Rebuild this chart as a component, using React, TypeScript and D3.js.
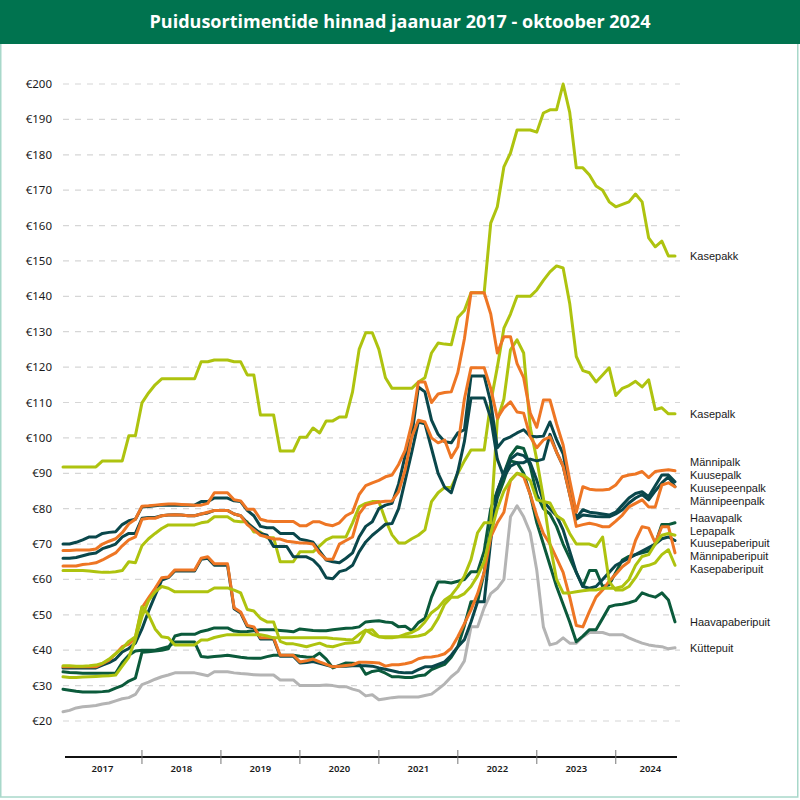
import React, { useEffect } from 'react';
import * as d3 from 'd3';

// monthly prices, Jan 2017 .. Oct 2024 (94 months), €/m³
const years = [2017, 2018, 2019, 2020, 2021, 2022, 2023, 2024];
const yTicks = d3.range(20, 201, 10);

const kasepakk = [
  91.8, 91.8, 91.8, 91.8, 91.8, 91.8, 93.5, 93.5, 93.5, 93.5, 100.6, 100.6,
  109.9, 112.7, 115, 116.7, 116.7, 116.7, 116.7, 116.7, 116.7, 121.5, 121.5, 122,
  122, 122, 121.5, 121.5, 117.8, 117.8, 106.5, 106.5, 106.5, 96.3, 96.3, 96.3,
  100.2, 100.2, 102.8, 101.4, 104.8, 104.8, 105.9, 105.9, 113, 125, 129.7, 129.7,
  125, 117, 114, 114, 114, 114, 115.8, 117, 124, 126.8, 126.5, 126.3,
  134, 136, 141, 141, 141, 160.7, 165.3, 176.6, 180.5, 187, 187, 187,
  186.4, 191.8, 192.7, 192.7, 200, 192, 176.3, 176.3, 174.3, 171.2, 170, 166.7,
  165.3, 166, 166.7, 168.9, 166.7, 156.5, 154, 155.6, 151.4, 151.4,
];
const kasepalk = [
  62.5, 62.5, 62.5, 62.5, 62.4, 62.2, 62, 62, 62.2, 62.5, 65, 64.7,
  69.5, 71.5, 73, 74.4, 75.4, 75.4, 75.4, 75.4, 75.4, 76, 76.3, 77.7,
  77.7, 77.7, 76.5, 76.3, 76.3, 73.4, 73.4, 71.8, 71.8, 65, 65, 65,
  67.8, 67.8, 67.8, 69.5, 71.2, 72, 72, 72, 76, 80.5, 81.5, 82,
  82, 76.8, 72.6, 70.3, 70.3, 71.5, 72.5, 74, 82, 84.5, 86, 86,
  90, 93.5, 96.6, 96.6, 96.6, 110, 120, 131, 135, 140, 140, 140,
  141.8, 144.5, 146.9, 148.6, 148, 138, 123, 119, 118.4, 115.8, 117.8, 119.8,
  112, 114, 114.8, 116, 114.4, 116.4, 108, 108.5, 106.8, 106.8,
];
const mannipalk = [
  68.2, 68.2, 68.3, 68.3, 68.3, 68.6, 70, 70.8, 71.5, 73.2, 75.7, 77,
  80.7, 80.8, 81, 81.2, 81.3, 81.3, 81.2, 81.1, 81, 81, 81.5, 84.5,
  84.5, 84.5, 82.5, 82.2, 79.8, 79.8, 77, 76.5, 76.4, 76.4, 76.4, 76.4,
  75.2, 75.2, 76.3, 76.3, 75.5, 75.2, 76, 78, 79, 84, 86.5, 87.3,
  88, 89, 89.5, 92.5, 96.5, 104, 115.8, 115.8, 110, 112.4, 112.8, 113,
  118.5, 128, 141, 141, 141, 135, 124, 128.6, 128.6, 121, 117, 107,
  103, 110.7, 110.7, 104, 98, 88, 79, 86.2, 85.5, 85.3, 85.3, 85.5,
  86.7, 89, 89.5, 89.8, 90.5, 88.8, 90.5, 90.8, 91, 90.7,
];
const kuusepalk = [
  70, 70, 70.5, 71.2, 72, 72, 73, 73.3, 73.5, 75.5, 76.6, 77,
  80.5, 80.6, 80.8, 81, 81, 81, 81, 81, 81, 82, 82, 83,
  83, 83, 82.2, 82, 79.5, 78, 75, 74.6, 74.6, 73, 73, 73,
  71.4, 71, 70.5, 68, 65.5, 65, 64.7, 66, 67.5, 72, 75, 76.3,
  80, 81, 81.5, 87, 95, 100.5, 114.4, 113, 105, 101, 98.9, 98.6,
  101.4, 102.3, 117.5, 117.5, 117.5, 110, 97.2, 99.5, 100.3, 101.4, 102.3, 100.5,
  100.3, 100.5, 104.5, 99.5, 95.5, 86, 77.4, 79.7, 79, 78.8, 78.5, 78.2,
  79, 81, 83, 84.3, 84.8, 83.4, 86.5, 89.5, 89.5, 87.6,
];
const kuusepeenpalk = [
  66, 66, 66.2, 66.7, 67.2, 67.5, 68.7, 69.3, 70, 72, 73, 73,
  77.3, 77.5, 77.5, 78, 78.2, 78.3, 78.2, 78, 78, 78.5, 78.8, 79.5,
  79.5, 79.5, 78.5, 78, 76, 74.5, 73, 72.5, 69.3, 69.3, 69.3, 66.4,
  66.4, 66.4, 65.5, 63.6, 60.5, 60.2, 62.2, 62.7, 64, 67.8, 70.6, 72.5,
  74, 75.6, 75.8, 80, 88, 96, 104.5, 104, 97, 90, 86, 84.5,
  90.5, 99, 111.3, 111.3, 111.3, 105.6, 94, 89, 92, 93, 93, 94,
  93.5, 94, 101, 96, 92, 84, 77, 78.2, 78, 77.8, 77.7, 77.7,
  78.5, 79.7, 81.6, 83, 84, 82.5, 85, 87.3, 89, 86.2,
];
const mannipeenpalk = [
  63.8, 63.8, 63.8, 64.2, 64.4, 64.7, 65.5, 66.5, 67.5, 69.5, 71.2, 72,
  77, 77.3, 77.3, 78, 78.2, 78.3, 78.2, 78, 78, 78.5, 79, 79.5,
  79.5, 79.5, 78.5, 78, 75.5, 74, 72.5, 72, 71.4, 71.4, 70.8, 70.6,
  70.3, 70.3, 70, 67.4, 65.7, 65.7, 70, 71, 72, 78.5, 81, 81.5,
  81.9, 82.1, 82.2, 84.8, 91, 100.3, 105, 104.5, 100, 98.6, 99.4, 94.4,
  97.5, 111, 119.8, 119.8, 119.8, 114, 105.6, 108.5, 110.2, 107.3, 107, 100.3,
  97.2, 99.4, 100.3, 96, 92, 84, 75, 75.5, 75.9, 75.5, 74.9, 74.9,
  76.5, 78.2, 80.5, 81.5, 82.5, 80.5, 80.5, 86.7, 87.3, 86.2,
];
const haavapalk = [
  29, 28.7, 28.4, 28.2, 28.2, 28.2, 28.3, 28.5, 29.3, 30, 31.3, 32.1,
  39.4, 39.6, 39.8, 40, 40.4, 44, 44.5, 44.5, 44.5, 45.3, 45.7, 46.3,
  46.3, 46.3, 45.4, 45.2, 45.3, 45.5, 45.8, 45.8, 45.8, 45.6, 45.4, 45.2,
  46, 45.8, 45.6, 45.5, 45.5, 45.8, 46, 46.2, 46.3, 46.6, 48, 48.2,
  48.3, 48, 47.8, 46.6, 46.8, 45.5, 47.8, 49, 55, 59.3, 59.3, 59,
  59.5, 60, 62.2, 62.2, 68, 80, 85, 90, 95, 97.5, 97, 92,
  84, 80, 78.5, 75, 70, 66, 62, 58, 62.5, 62.5, 58, 58.5,
  62, 65.5, 66.5, 67, 67.5, 68, 70, 75.5, 75.5, 76,
];
const lepapalk = [
  32.5, 32.3, 32.3, 32.4, 32.5, 32.6, 32.7, 32.8, 33, 35.5, 38, 43,
  49.5, 54, 56.5, 58, 57.5, 56.5, 56.5, 56.5, 56.5, 56.5, 56.5, 57.6,
  57.6, 57.6, 57, 56.2, 51.5, 51.1, 49, 48, 48, 42.5, 41.8, 41.8,
  41.4, 41, 41.5, 42, 41.2, 41, 41.5, 42, 42.1, 42.3, 45.5, 45.8,
  43.8, 43.5, 43.5, 43.8, 44.5, 45, 46, 48, 50.6, 52, 54.2, 55.5,
  57.9, 61, 65.6, 73.2, 76, 76, 105, 111, 124.9, 127.7, 124, 103,
  93.8, 83, 70, 60, 56.2, 56.2, 56.5, 56.8, 57, 57, 57.5, 57.5,
  57.5, 58, 60, 64, 66.5, 67, 70, 72.5, 73, 72.5,
];
const kuusepaberipuit = [
  35, 35, 35, 35, 35, 35, 35.8, 36.5, 37.5, 39.5, 40.5, 42,
  46, 51, 55.5, 59.8, 60.5, 62.4, 62.4, 62.4, 62.4, 65.7, 66, 64,
  64, 64, 51.7, 50.5, 46.7, 46.3, 43.2, 43.2, 43.2, 38.3, 38.3, 38.3,
  36.4, 36.5, 36.8, 36.3, 35.8, 35.3, 35.5, 35.5, 35.6, 35.6, 35.6, 35.5,
  35, 34.6, 34.2, 33.8, 33.6, 33.6, 34.5, 35.3, 35.3, 36, 36.7, 38.6,
  41, 43, 48, 53.7, 53.7, 71, 85, 90, 94, 95.5, 95, 93,
  88, 82, 80, 78, 74, 68, 62, 58, 57.5, 58, 60, 62,
  64, 65, 66, 67, 68, 69, 70, 71.5, 72, 71,
];
const mannipaberipuit = [
  35.3, 35.3, 35.3, 35.3, 35.3, 35.3, 36.2, 37.2, 39, 41, 41.7, 43.5,
  52, 54.8, 57.5, 60.5, 60.7, 62.7, 62.7, 62.7, 62.7, 66, 66.4, 64.4,
  64.4, 64.4, 52, 50.8, 47, 46.6, 43.5, 43.5, 43.5, 38.6, 38.6, 38.6,
  36.7, 37, 37.5, 36.7, 36, 35.3, 35.5, 35.7, 35.9, 36.6, 36.6, 36.5,
  36.4, 35.5, 35.9, 35.9, 36.2, 36.6, 37.6, 38, 38.1, 38.4, 39, 40.6,
  43.8, 47.5, 51.4, 56, 62, 72, 76, 79, 88, 90, 89, 84,
  78, 73, 70, 66, 62, 55, 47, 46.6, 51, 55, 57, 59.5,
  61.5, 63.6, 65, 71, 74.9, 74.5, 70.3, 74.9, 74.9, 67.5,
];
const kasepaberipuit = [
  35.6, 35.6, 35.5, 35.5, 35.6, 35.8, 36.3, 37.5, 39, 40.5, 42.5, 43.8,
  52.3, 50, 46, 43.8, 43.5, 41.5, 41.5, 41.5, 41.5, 42.9, 42.9, 43.6,
  44, 44.4, 44.4, 44.4, 44.4, 44.4, 44.4, 44, 43.5, 43.5, 43.5, 43.5,
  43.5, 43.5, 43.5, 43.5, 43.5, 43.3, 43.2, 43, 42.9, 44.5, 45.7, 44.5,
  43.8, 43.8, 43.8, 43.8, 43.8, 43.8, 44, 44.5, 46, 49, 53, 55,
  55, 56, 58, 61, 65, 73, 80, 85, 88, 90, 89.5, 88,
  82.5, 82, 81.6, 78, 76.8, 73, 70, 70, 70, 69.3, 72, 59.4,
  57, 57, 58, 60.5, 63.6, 64, 64.7, 67, 68.4, 64,
];
const haavapaberipuit = [
  33.9, 33.7, 33.6, 33.5, 33.5, 33.5, 33.5, 33.5, 33.5, 36.5, 38.6, 39.8,
  40, 40, 40, 40.5, 41, 42.3, 42.3, 42.3, 42.3, 38.2, 38, 38.2,
  38.4, 38.6, 38.3, 38, 37.8, 37.7, 37.7, 38.2, 38.6, 38.6, 38.6, 38.6,
  38.3, 38.1, 38, 39.2, 37.5, 35, 35.7, 36.4, 36.3, 36.2, 33.2, 34,
  34.3, 33.5, 32.5, 32.5, 32.3, 32.3, 32.8, 33, 34.5, 35.3, 36, 38,
  41, 47, 53.7, 53.7, 62, 75, 83, 88, 93.5, 93, 90, 84,
  76, 70, 64, 58, 53, 48, 42.4, 44, 45.8, 45.8, 49, 52.3,
  52.8, 53, 53.4, 54, 56.2, 55.5, 55, 56.2, 54.2, 48,
];
const kuttepuit = [
  22.6, 23, 23.7, 24, 24.2, 24.4, 24.8, 25.1, 25.7, 26.3, 26.6, 27.5,
  30.3, 31, 31.8, 32.5, 33, 33.6, 33.6, 33.6, 33.6, 33.2, 32.8, 33.9,
  33.9, 33.9, 33.6, 33.4, 33.3, 33.1, 33, 33, 33, 31.6, 31.6, 31.6,
  30, 30, 30, 30, 30.2, 30, 29.7, 29.7, 29, 28.5, 27.1, 27.4,
  26, 26.3, 26.6, 26.8, 26.8, 26.8, 26.8, 27.2, 27.6, 29, 30.5, 32.5,
  34, 37, 46.6, 46.6, 52, 56, 57.5, 60, 77.7, 80.8, 77.7, 73.2,
  62.5, 46.6, 41.5, 42, 43.5, 42, 42, 43.8, 45, 45, 45, 44.4,
  44.4, 44.4, 43.5, 42.7, 42, 41.5, 41.2, 41, 40.4, 40.7,
];

const LIME = '#aec30f';
const ORANGE = '#ee7624';
const TEAL = '#0a474b';
const GREEN = '#0b5a3b';
const GREY = '#b4b4b4';

// legend order, top to bottom
const series = [
  { name: 'Kasepakk', color: LIME, values: kasepakk },
  { name: 'Kasepalk', color: LIME, values: kasepalk },
  { name: 'Männipalk', color: ORANGE, values: mannipalk },
  { name: 'Kuusepalk', color: TEAL, values: kuusepalk },
  { name: 'Kuusepeenpalk', color: TEAL, values: kuusepeenpalk },
  { name: 'Männipeenpalk', color: ORANGE, values: mannipeenpalk },
  { name: 'Haavapalk', color: GREEN, values: haavapalk },
  { name: 'Lepapalk', color: LIME, values: lepapalk },
  { name: 'Kuusepaberipuit', color: TEAL, values: kuusepaberipuit },
  { name: 'Männipaberipuit', color: ORANGE, values: mannipaberipuit },
  { name: 'Kasepaberipuit', color: LIME, values: kasepaberipuit },
  { name: 'Haavapaberipuit', color: GREEN, values: haavapaberipuit },
  { name: 'Küttepuit', color: GREY, values: kuttepuit },
];

// paint order, bottom first
const drawOrder = [
  'Küttepuit', 'Haavapaberipuit', 'Haavapalk', 'Kuusepaberipuit', 'Männipaberipuit',
  'Lepapalk', 'Kasepaberipuit', 'Kasepakk', 'Kasepalk',
  'Kuusepeenpalk', 'Kuusepalk', 'Männipeenpalk', 'Männipalk',
];

const W = 800;
const H = 800;
const plot = { left: 63, right: 675, top: 84, bottom: 721 };

// push labels apart so they don't overlap, keeping clusters centred on their lines
function spreadLabels(targets: number[], gap: number): number[] {
  const order = targets.map((t, i) => i).sort((a, b) => targets[a] - targets[b]);
  let groups = order.map((i) => ({ idx: [i], pos: targets[i] }));
  let changed = true;
  while (changed) {
    changed = false;
    for (let g = 0; g < groups.length - 1; g++) {
      const a = groups[g];
      const b = groups[g + 1];
      const aEnd = a.pos + (a.idx.length - 1) * gap;
      if (b.pos - aEnd < gap) {
        const idx = a.idx.concat(b.idx);
        const mean = d3.mean(idx, (i) => targets[i]) as number;
        groups.splice(g, 2, { idx, pos: mean - ((idx.length - 1) * gap) / 2 });
        changed = true;
        break;
      }
    }
  }
  const out: number[] = [];
  groups.forEach((g) => g.idx.forEach((i, k) => (out[i] = g.pos + k * gap)));
  return out;
}

export default function App() {
  useEffect(() => {
    document.body.style.margin = '0';
  }, []);

  const x = d3.scaleLinear().domain([0, 93]).range([plot.left, plot.right]);
  const y = d3.scaleLinear().domain([20, 200]).range([plot.bottom, plot.top]);

  const line = d3
    .line<number>()
    .x((d, i) => x(i))
    .y((d) => y(d));

  // legend keeps the source's order; spread by its end values
  const labelY = spreadLabels(
    series.map((s) => y(s.values[s.values.length - 1])),
    12.75
  );

  const axisY = 757;
  const yearStart = years.map((yr, k) => x(k * 12));
  const axisEnd = x(93) + 2;

  return (
    <svg width={W} height={H} style={{ display: 'block', fontFamily: 'Noto Sans, sans-serif' }}>
      <rect x={0} y={0} width={W} height={H} fill="#fff" />
      <rect x={0.75} y={0} width={W - 3} height={H - 3} fill="none" stroke="#a8d8ca" strokeWidth={1.5} />
      <rect x={0} y={0} width={W} height={44} fill="#00734f" />
      <text
        x={W / 2}
        y={28}
        textAnchor="middle"
        fill="#fff"
        fontSize={18}
        fontWeight={700}
        fontFamily="'Liberation Sans Narrow', 'Open Sans', sans-serif"
      >
        Puidusortimentide hinnad jaanuar 2017 - oktoober 2024
      </text>

      <g className="grid">
        {yTicks.map((t) => (
          <g key={t}>
            <line
              x1={plot.left}
              x2={680}
              y1={y(t)}
              y2={y(t)}
              stroke="#d6d6d6"
              strokeWidth={1.2}
              strokeDasharray="6 6"
            />
            <text x={52} y={y(t) + 4} textAnchor="end" fontSize={11.5} fill="#1a1a1a">
              €{t}
            </text>
          </g>
        ))}
      </g>

      <g className="lines">
        {drawOrder.map((name) => {
          const s = series.find((d) => d.name === name)!;
          return (
            <path
              key={name}
              d={line(s.values) || ''}
              fill="none"
              stroke={s.color}
              strokeWidth={3}
              strokeLinejoin="round"
              strokeLinecap="round"
            />
          );
        })}
      </g>

      <g className="x-axis">
        <line x1={plot.left + 2} x2={axisEnd} y1={axisY} y2={axisY} stroke="#111" strokeWidth={2} />
        {yearStart.slice(1).map((px, k) => (
          <line key={k} x1={px} x2={px} y1={axisY - 7} y2={axisY + 7} stroke="#777" strokeWidth={1} />
        ))}
        {years.map((yr, k) => {
          const a = k === 0 ? plot.left : yearStart[k];
          const b = k === years.length - 1 ? axisEnd + 8 : yearStart[k + 1];
          return (
            <text key={yr} x={(a + b) / 2} y={axisY + 15} textAnchor="middle" fontSize={9.5} fill="#1a1a1a" fontWeight={600}>
              {yr}
            </text>
          );
        })}
      </g>

      <g className="labels" fontFamily="'Liberation Sans', Arial, sans-serif">
        {series.map((s, i) => (
          <text key={s.name} x={690} y={labelY[i] + 4} fontSize={11} fill="#1a1a1a">
            {s.name}
          </text>
        ))}
      </g>
    </svg>
  );
}
